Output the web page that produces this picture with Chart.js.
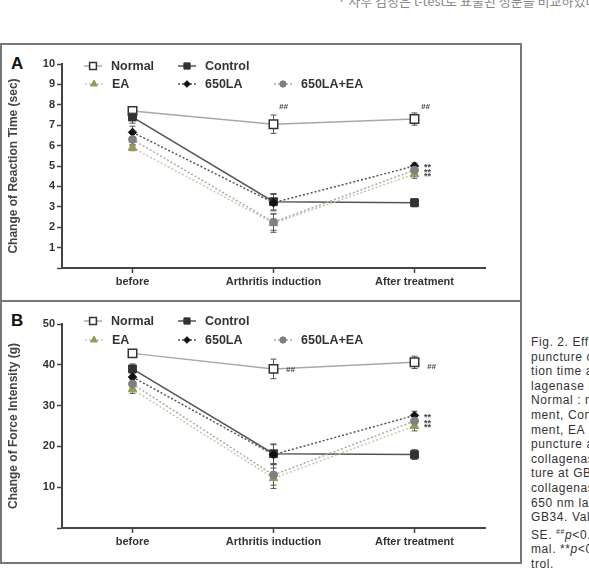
<!DOCTYPE html>
<html>
<head>
<meta charset="utf-8">
<script src="https://cdn.jsdelivr.net/npm/chart.js@4/dist/chart.umd.min.js"></script>
<style>
  body { margin: 0; width: 589px; height: 571px; overflow: hidden; background: #fff; position: relative; font-family: "Liberation Sans", Arial, sans-serif; }
  .box { position: absolute; left: 0; width: 522px; border: 2px solid #777; box-sizing: border-box; }
  .panel { position: absolute; left: 0; }
  .tag { position: absolute; left: 11px; font: bold 17px "Liberation Sans Narrow", "Liberation Sans", sans-serif; color: #111; }
  .topnote { position: absolute; left: 338px; top: -9px; font: 13px "Noto Sans CJK KR", sans-serif; color: #888; white-space: nowrap; }
  .caption { position: absolute; left: 531px; top: 335px; font: 12px "Liberation Sans", Arial, sans-serif; letter-spacing: 0.6px; color: #333; line-height: 14.6px; white-space: nowrap; }
</style>
</head>
<body>
<div class="topnote">· 사후 검정은 t-test로 표출된 성분을 비교하였다.</div>
<div class="box" style="top:43px;height:259px"></div>
<div class="box" style="top:300px;height:264px"></div>
<div class="tag" style="top:54px">A</div>
<div class="tag" style="top:311px">B</div>
<canvas id="chartA" class="panel" style="top:44px" width="521" height="257"></canvas>
<canvas id="chartB" class="panel" style="top:302px" width="521" height="261"></canvas>
<div class="caption" id="caption"></div>
<script>
const categories = ['before', 'Arthritis induction', 'After treatment'];
const groups = ['Normal', 'Control', 'EA', '650LA', '650LA+EA'];

// A: reaction time (sec)
const timeNormal = [7.7, 7.05, 7.3];
const timeControl = [7.4, 3.25, 3.2];
const timeEA = [5.9, 2.2, 4.6];
const time650LA = [6.65, 3.2, 5.0];
const time650LAEA = [6.3, 2.25, 4.8];
const timeNormalErr = [0.1, 0.45, 0.3];
const timeControlErr = [0.3, 0.4, 0.2];
const timeEAErr = [0.15, 0.45, 0.2];
const time650LAErr = [0.3, 0.4, 0.15];
const time650LAEAErr = [0.3, 0.4, 0.2];
const timeTicks = [1, 2, 3, 4, 5, 6, 7, 8, 9, 10];

// B: force intensity (g)
const forceNormal = [42.8, 39.0, 40.6];
const forceControl = [39.0, 18.2, 18.0];
const forceEA = [34.0, 12.2, 25.0];
const force650LA = [37.0, 18.0, 27.6];
const force650LAEA = [35.3, 13.0, 26.2];
const forceNormalErr = [0.8, 2.4, 1.5];
const forceControlErr = [1.2, 2.4, 1.2];
const forceEAErr = [1.0, 2.5, 1.2];
const force650LAErr = [1.2, 2.4, 1.0];
const force650LAEAErr = [1.2, 2.5, 1.2];
const forceTicks = [10, 20, 30, 40, 50];

const captionLines = [
  'Fig. 2. Effects of 650 nm laser acu-',
  'puncture on the change of reac-',
  'tion time and force intensity in col-',
  'lagenase induced arthritis rats.',
  'Normal : normal group without treat-',
  'ment, Control : arthritis without treat-',
  'ment, EA : electro-acupuncture at GB34,',
  'puncture at GB34 after induced by',
  'collagenase, 650LA : 650 nm laser acupunc-',
  'ture at GB34 after induced by',
  'collagenase, 650LA+EA : combination of',
  '650 nm laser and electroacupuncture at',
  'GB34. Values are expressed as mean ±',
  'SE. <sup style="font-size:7px">##</sup><i>p</i>&lt;0.01 compared with Nor-',
  'mal. **<i>p</i>&lt;0.01 compared with Con-',
  'trol.'
];
document.getElementById('caption').innerHTML = captionLines.join('<br>');

const styles = [
  { line: '#a8a8a8', dash: [], pt: 'rect', r: 6, fill: '#fff', edge: '#333', bw: 1.5 },
  { line: '#555', dash: [], pt: 'rect', r: 5.5, fill: '#333', edge: '#333', bw: 1 },
  { line: '#c9c9a4', dash: [2, 2], pt: 'triangle', r: 5, fill: '#9a9a55', edge: '#9a9a55', bw: 1 },
  { line: '#555', dash: [2, 2], pt: 'rectRot', r: 4.2, fill: '#111', edge: '#111', bw: 1 },
  { line: '#aaa', dash: [2, 2], pt: 'circle', r: 4, fill: '#808080', edge: '#808080', bw: 1 }
];

function drawMarker(ctx, s, x, y) {
  ctx.save();
  ctx.strokeStyle = s.line;
  ctx.lineWidth = 1.5;
  ctx.setLineDash(s.dash);
  ctx.beginPath(); ctx.moveTo(x - 9, y); ctx.lineTo(x + 9, y); ctx.stroke();
  ctx.setLineDash([]);
  ctx.fillStyle = s.fill; ctx.strokeStyle = s.edge; ctx.lineWidth = s.bw;
  Chart.helpers.drawPoint(ctx, { pointStyle: s.pt, radius: s.r * 0.8, borderWidth: s.bw }, x, y);
  ctx.restore();
}

const errorBars = {
  id: 'errorBars',
  beforeDatasetsDraw(chart) {
    const ctx = chart.ctx;
    const ys = chart.scales.y;
    ctx.save();
    ctx.strokeStyle = '#555';
    ctx.lineWidth = 1;
    chart.data.datasets.forEach((ds, i) => {
      chart.getDatasetMeta(i).data.forEach((pt, j) => {
        const top = ys.getPixelForValue(ds.data[j] + ds.errors[j]);
        const bot = ys.getPixelForValue(ds.data[j] - ds.errors[j]);
        ctx.beginPath();
        ctx.moveTo(pt.x, top); ctx.lineTo(pt.x, bot);
        ctx.moveTo(pt.x - 3, top); ctx.lineTo(pt.x + 3, top);
        ctx.moveTo(pt.x - 3, bot); ctx.lineTo(pt.x + 3, bot);
        ctx.stroke();
      });
    });
    ctx.restore();
  }
};

function makePanel(id, title, max, step, series, errs, legendY, hashMarks) {
  const legendPlugin = {
    id: 'legendGrid',
    afterDraw(chart) {
      const ctx = chart.ctx;
      const cells = [[93, legendY[0]], [187, legendY[0]], [94, legendY[1]], [187, legendY[1]], [283, legendY[1]]];
      ctx.save();
      ctx.font = 'bold 12.5px "Liberation Sans", Arial, sans-serif';
      ctx.fillStyle = '#333';
      ctx.textBaseline = 'middle';
      groups.forEach((g, i) => {
        const [x, y] = cells[i];
        drawMarker(ctx, styles[i], x, y);
        ctx.fillStyle = '#333';
        ctx.fillText(g, x + 18, y + 1);
      });
      ctx.restore();
    }
  };
  const notes = {
    id: 'notes',
    afterDraw(chart) {
      const ctx = chart.ctx;
      const xs = chart.scales.x, ys = chart.scales.y;
      ctx.save();
      ctx.fillStyle = '#444';
      ctx.textAlign = 'center';
      ctx.textBaseline = 'middle';
      ctx.font = 'italic bold 8px "Liberation Sans", sans-serif';
      hashMarks.forEach(h => {
        ctx.fillText('##', xs.getPixelForValue(h.i) + h.dx, ys.getPixelForValue(series[0][h.i]) + h.dy);
      });
      ctx.font = 'bold 9px "Liberation Sans", sans-serif';
      [3, 4, 2].forEach(k => {
        ctx.fillText('**', xs.getPixelForValue(2) + 13, ys.getPixelForValue(series[k][2]) + 2);
      });
      ctx.restore();
    }
  };
  const axisFont = { family: '"Liberation Sans", Arial, sans-serif', size: 11, weight: 'bold' };
  return new Chart(document.getElementById(id), {
    type: 'line',
    data: {
      labels: categories,
      datasets: groups.map((g, i) => ({
        label: g,
        data: series[i],
        errors: errs[i],
        borderColor: styles[i].line,
        borderWidth: 1.5,
        borderDash: styles[i].dash,
        pointStyle: styles[i].pt,
        pointRadius: styles[i].r,
        pointBackgroundColor: styles[i].fill,
        pointBorderColor: styles[i].edge,
        pointBorderWidth: styles[i].bw,
        tension: 0,
        order: 5 - i
      }))
    },
    options: {
      responsive: false,
      animation: false,
      events: [],
      layout: { padding: { top: legendY[2], right: 36, left: 0, bottom: 0 } },
      plugins: { legend: { display: false }, title: { display: false }, tooltip: { enabled: false } },
      scales: {
        x: {
          offset: true,
          afterFit: s => { s.height = legendY[3]; },
          grid: { offset: false, drawOnChartArea: false, tickLength: 5, tickColor: '#444', tickWidth: 1.5 },
          border: { color: '#444', width: 2 },
          ticks: { color: '#333', font: axisFont, padding: 2 }
        },
        y: {
          min: 0, max: max,
          afterFit: s => { s.width = 62; },
          grid: { drawOnChartArea: false, tickLength: 5, tickColor: '#444', tickWidth: 1.5 },
          border: { color: '#444', width: 2 },
          ticks: { stepSize: step, color: '#333', font: axisFont, padding: 2, callback: v => v === 0 ? '' : v },
          title: { display: true, text: title, color: '#444', padding: { top: 6, bottom: 0 }, font: { family: '"Liberation Sans", Arial, sans-serif', size: 12, weight: 'bold' } }
        }
      }
    },
    plugins: [errorBars, legendPlugin, notes]
  });
}

makePanel('chartA', 'Change of Reaction Time (sec)', 10, timeTicks[1] - timeTicks[0],
  [timeNormal, timeControl, timeEA, time650LA, time650LAEA],
  [timeNormalErr, timeControlErr, timeEAErr, time650LAErr, time650LAEAErr],
  [22, 40, 20, 33],
  [{ i: 1, dx: 10, dy: -17 }, { i: 2, dx: 11, dy: -12 }]);

makePanel('chartB', 'Change of Force Intensity (g)', 50, forceTicks[1] - forceTicks[0],
  [forceNormal, forceControl, forceEA, force650LA, force650LAEA],
  [forceNormalErr, forceControlErr, forceEAErr, force650LAErr, force650LAEAErr],
  [19, 38, 22, 35],
  [{ i: 1, dx: 17, dy: 1 }, { i: 2, dx: 17, dy: 4 }]);
</script>
</body>
</html>
